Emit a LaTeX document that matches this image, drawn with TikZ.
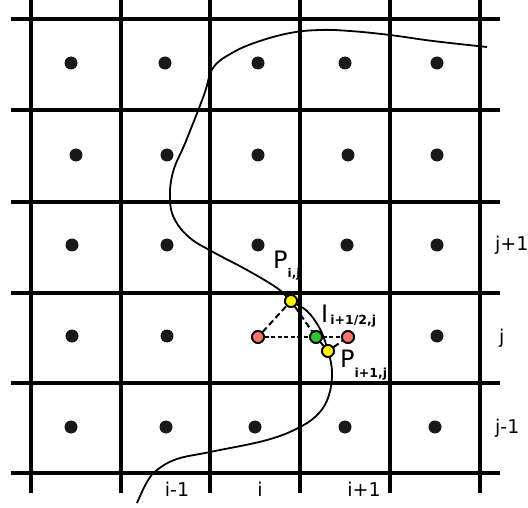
\documentclass[tikz,border=0pt]{standalone}
\usepackage{fontspec}
\setmainfont{DejaVu Sans}
\begin{document}
\begin{tikzpicture}[x=1pt,y=-1pt,
  gridline/.style={line width=3.4pt, line cap=butt, black},
  celldot/.style={circle, fill=black!90, inner sep=0pt, minimum size=13pt},
  ipoint/.style={circle, draw=black, line width=1.8pt, inner sep=0pt, minimum size=12pt},
  reddot/.style={ipoint, fill=red!55!white},
  yeldot/.style={ipoint, fill=yellow},
  grndot/.style={ipoint, fill=green!70!black!80},
  link/.style={line width=2pt, dash pattern=on 6pt off 3.5pt},
  flink/.style={line width=2pt, dash pattern=on 4pt off 2.5pt},
  axlabel/.style={font=\fontsize{19}{19}\selectfont, inner sep=0pt},
  biglabel/.style={font=\fontsize{24}{24}\selectfont, inner sep=0pt, anchor=base west}
]
\useasboundingbox (0,0) rectangle (528,508);
% grid
\foreach \x in {31,121,210,300,390,480} \draw[gridline] (\x,0) -- (\x,493);
\foreach \y in {19,110,202,293,383,473} \draw[gridline] (11,\y) -- (500,\y);
% cell centres
\foreach \x/\y [count=\k] in {71/63,165/63,258/63,345/63,437/63,
  76/155,167/155,258/155,348/155,437/155,
  72/245,167/245,258/245,347/245,437/245,
  72/336,167/336,437/336,
  71/427,166/427,255/427,345/427,435/427}
  \node[celldot] (c\k) at (\x,\y) {};
% interface curve
\draw[line width=1.8pt] plot[smooth, tension=0.65] coordinates {
 (487,47) (433,41) (390,35) (350,31) (320,30) (290,33) (257,42) (232,53)
 (213,68) (204,95) (186,141) (173,172)
 (170,200) (175,220) (190,238) (213,252) (247,270) (277,288)
 (291,301) (307,311) (320,329) (328,351) (332,372) (329,395) (319,413)
 (300,427) (267,440) (210,452) (177,459) (157,470) (147,482) (137,503)};
% special points
\node[reddot] (rL) at (258,337) {};
\node[reddot] (rR) at (348,337) {};
\node[yeldot] (pij) at (291,301) {};
\node[yeldot] (pi1j) at (328,351) {};
\node[grndot] (ih) at (316,337) {};
\draw[link] (rL) -- (pij);
\draw[link] (pij) -- (ih) -- (pi1j);
\draw[flink] (rL) -- (ih) -- (rR);
\draw[link] (pi1j) -- (rR);
\node[reddot] at (rL) {};
\node[reddot] at (rR) {};
\node[yeldot] at (pij) {};
\node[yeldot] at (pi1j) {};
\node[grndot] at (ih) {};
% labels
\node[biglabel] (lp1) at (273,269) {P\raisebox{-9pt}{\fontsize{12}{12}\selectfont\bfseries i,j}};
\node[biglabel] (li) at (321,322) {I\raisebox{-2pt}{\fontsize{12.5}{12.5}\selectfont\bfseries\,i+1/2,j}};
\node[biglabel] (lp2) at (340,367) {P\raisebox{-10pt}{\fontsize{12.5}{12.5}\selectfont\bfseries i+1,j}};
\node[axlabel, anchor=base west] (jp) at (495,251) {j+1};
\node[axlabel, anchor=base west] (jm) at (495,433) {j-1};
\node[axlabel, anchor=base west] (j0) at (499,343) {j};
\node[axlabel, anchor=base] (im) at (177,496) {i-1};
\node[axlabel, anchor=base] (i0) at (260,496) {i};
\node[axlabel, anchor=base] (ip) at (364,496) {i+1};
\end{tikzpicture}
\end{document}
